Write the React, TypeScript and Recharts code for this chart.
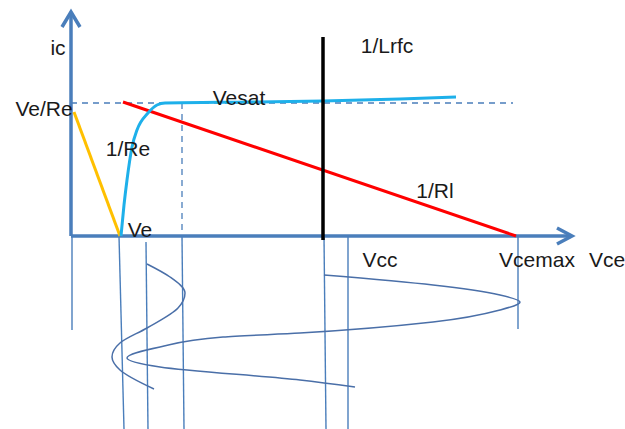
import React from "react";
import { ComposedChart, Scatter, XAxis, YAxis, ReferenceDot } from "recharts";

// all values in Vce / ic units, origin at the axis crossing
const yAxisLine = [{ x: 0, y: 0 }, { x: 0, y: 224 }];
const yAxisArrow = [{ x: -9, y: 209 }, { x: 0, y: 224 }, { x: 9, y: 209 }];
const xAxisLine = [{ x: 0, y: 0 }, { x: 501, y: 0 }];
const xAxisArrow = [{ x: 486, y: 8 }, { x: 501, y: 0 }, { x: 486, y: -8 }];

const emitterLoad = [{ x: 3, y: 124 }, { x: 49, y: 0 }];
const loadLine = [{ x: 52, y: 134 }, { x: 445, y: 0 }];
const rfcLine = [{ x: 252, y: 199 }, { x: 252, y: -4 }];

const vesatCurve = [
  { x: 50, y: 0 },
  { x: 53, y: 31 },
  { x: 56, y: 56 },
  { x: 61, y: 89 },
  { x: 66, y: 106 },
  { x: 77, y: 123 },
  { x: 86, y: 131 },
  { x: 94, y: 133 },
  { x: 179, y: 134 },
  { x: 252, y: 135 },
  { x: 329, y: 137 },
  { x: 385, y: 139 },
];

const dashH = [{ x: 0, y: 133 }, { x: 442, y: 133 }];
const dashV = [{ x: 111, y: 133 }, { x: 111, y: 0 }];

const guides = [
  [{ x: 1, y: 0 }, { x: 1, y: -94 }],
  [{ x: 48, y: 0 }, { x: 53, y: -193 }],
  [{ x: 75, y: -6 }, { x: 77, y: -193 }],
  [{ x: 111, y: 0 }, { x: 113, y: -193 }],
  [{ x: 253, y: 0 }, { x: 255, y: -193 }],
  [{ x: 277, y: 0 }, { x: 277, y: -193 }],
  [{ x: 447, y: 0 }, { x: 447, y: -93 }],
];

const currentWave = [
  { x: 76, y: -28 },
  { x: 99, y: -41 },
  { x: 114, y: -57 },
  { x: 107, y: -72 },
  { x: 76, y: -92 },
  { x: 49, y: -107 },
  { x: 41, y: -121 },
  { x: 49, y: -134 },
  { x: 83, y: -153 },
];

const voltageWave = [
  { x: 253, y: -39 },
  { x: 362, y: -49 },
  { x: 429, y: -59 },
  { x: 449, y: -66 },
  { x: 429, y: -74 },
  { x: 362, y: -86 },
  { x: 229, y: -97 },
  { x: 152, y: -101 },
  { x: 89, y: -111 },
  { x: 56, y: -122 },
  { x: 89, y: -131 },
  { x: 229, y: -144 },
  { x: 284, y: -151 },
];

const labels = [
  { text: "ic", x: -13, y: 188 },
  { text: "Ve/Re", x: -27, y: 127 },
  { text: "1/Re", x: 57, y: 87 },
  { text: "Ve", x: 69, y: 6 },
  { text: "Vesat", x: 168, y: 138 },
  { text: "1/Lrfc", x: 316, y: 190 },
  { text: "1/Rl", x: 364, y: 45 },
  { text: "Vcc", x: 309, y: -24 },
  { text: "Vcemax", x: 466, y: -24 },
  { text: "Vce", x: 536, y: -24 },
];

const AXIS = "#4a7ebb";
const noDot = () => <g />;

function Path({ data, stroke, width, dash, curve }: any) {
  return (
    <Scatter
      data={data}
      shape={noDot}
      isAnimationActive={false}
      legendType="none"
      lineJointType={curve || "linear"}
      line={{ stroke, strokeWidth: width, strokeDasharray: dash, fill: "none" }}
    />
  );
}

export default function App() {
  return (
    <div style={{ position: "absolute", left: 0, top: 0, background: "#fff" }}>
      <ComposedChart width={625} height={429} margin={{ top: 0, right: 0, bottom: 0, left: 0 }}>
        <XAxis type="number" dataKey="x" domain={[-71, 554]} hide allowDataOverflow />
        <YAxis type="number" dataKey="y" domain={[-193, 236]} hide allowDataOverflow />

        {guides.map((g, i) => Path({ data: g, stroke: AXIS, width: 1.4, key: i }))}
        {Path({ data: currentWave, stroke: "#4a6fa8", width: 1.5, curve: "monotoneY" })}
        {Path({ data: voltageWave, stroke: "#4a6fa8", width: 1.5, curve: "monotoneY" })}
        {Path({ data: dashH, stroke: AXIS, width: 1.3, dash: "6 5" })}
        {Path({ data: dashV, stroke: AXIS, width: 1.3, dash: "6 5" })}
        {Path({ data: yAxisLine, stroke: AXIS, width: 3.5 })}
        {Path({ data: yAxisArrow, stroke: AXIS, width: 3.5 })}
        {Path({ data: xAxisLine, stroke: AXIS, width: 3.5 })}
        {Path({ data: xAxisArrow, stroke: AXIS, width: 3.5 })}
        {Path({ data: emitterLoad, stroke: "#ffc000", width: 3 })}
        {Path({ data: loadLine, stroke: "#ff0000", width: 3 })}
        {Path({ data: vesatCurve, stroke: "#1eb0ea", width: 3, curve: "monotoneX" })}
        {Path({ data: rfcLine, stroke: "#000000", width: 3.5 })}

        {labels.map((l) => (
          <ReferenceDot
            key={l.text}
            x={l.x}
            y={l.y}
            r={0}
            fill="none"
            stroke="none"
            ifOverflow="visible"
            label={{
              value: l.text,
              position: "center",
              fill: "#1a1a1a",
              fontSize: 21,
              fontFamily: "Liberation Sans, Arial, sans-serif",
            }}
          />
        ))}
      </ComposedChart>
    </div>
  );
}
